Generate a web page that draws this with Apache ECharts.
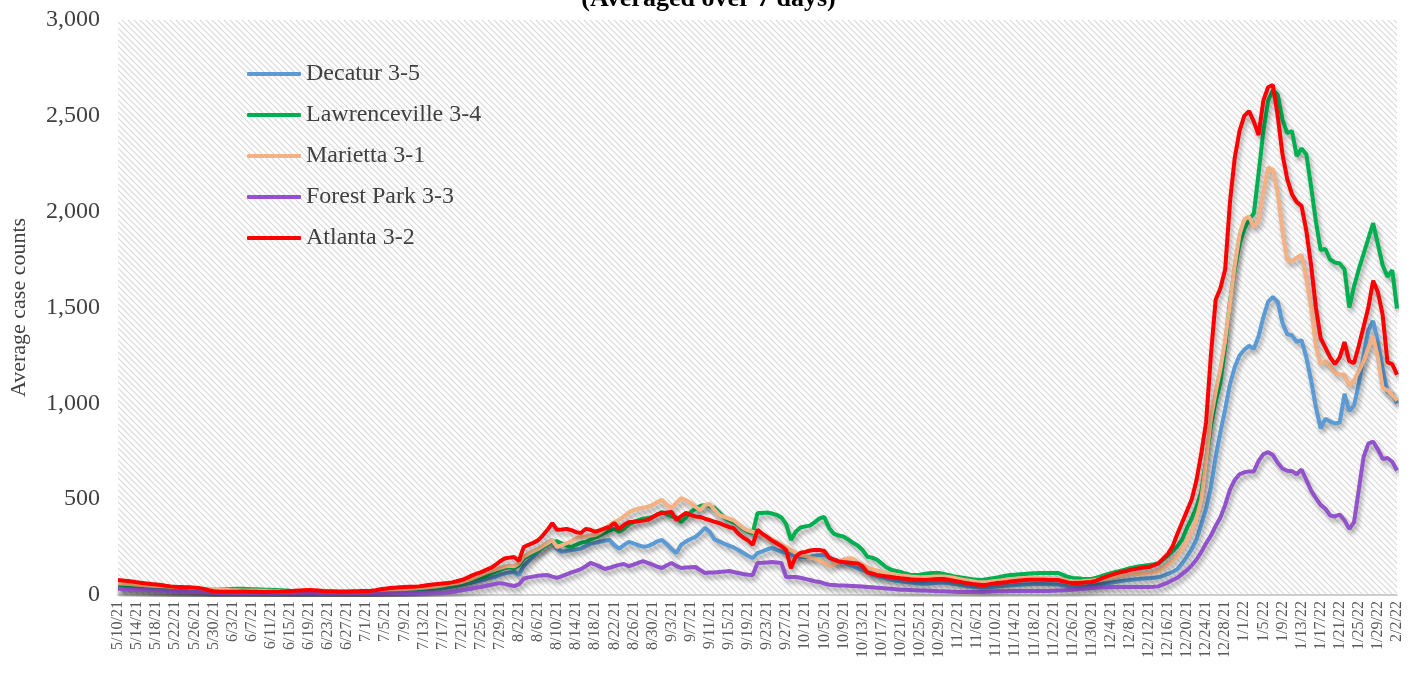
<!DOCTYPE html>
<html>
<head>
<meta charset="utf-8">
<title>Average case counts by district</title>
<script src="https://cdn.jsdelivr.net/npm/echarts@6.0.0/dist/echarts.min.js"></script>
<style>
  html, body { margin: 0; padding: 0; background: #fff; }
  #chart { width: 1417px; height: 675px; }
</style>
</head>
<body>
<div id="chart"></div>
<script>
// one category per day, 5/10/21 .. 2/2/22
const dates = [];
for (let i = 0; i < 269; i++) {
  const d = new Date(2021, 4, 10 + i);
  dates.push((d.getMonth() + 1) + '/' + d.getDate() + '/' + String(d.getFullYear()).slice(2));
}

const seriesNames = ['Decatur 3-5', 'Lawrenceville 3-4', 'Marietta 3-1', 'Forest Park 3-3', 'Atlanta 3-2'];
const seriesColors = ['#5b9bd5', '#00b050', '#f4b183', '#9152cc', '#ff0000'];

const decatur = [
  42, 41, 40, 38, 36, 34, 32, 30, 28, 26,
  25, 24, 23, 22, 21, 20, 19, 18, 17, 16,
  15, 14, 13, 13, 12, 12, 12, 12, 11, 11,
  11, 11, 11, 11, 11, 12, 12, 12, 12, 12,
  12, 12, 11, 11, 11, 11, 11, 11, 11, 11,
  11, 11, 12, 12, 13, 14, 15, 16, 17, 18,
  19, 20, 22, 24, 26, 28, 31, 34, 37, 40,
  44, 48, 53, 58, 64, 70, 76, 82, 88, 95,
  105, 112, 118, 120, 104, 150, 175, 200, 225, 250,
  272, 287, 240, 225, 230, 235, 238, 242, 255, 268,
  272, 278, 283, 287, 260, 242, 260, 277, 270, 260,
  252, 255, 265, 280, 287, 265, 240, 219, 262, 280,
  292, 303, 325, 350, 330, 290, 280, 268, 258, 248,
  235, 220, 205, 193, 219, 228, 238, 245, 235, 226,
  219, 212, 205, 200, 198, 200, 205, 208, 209, 195,
  185, 178, 172, 160, 150, 140, 130, 120, 105, 98,
  92, 86, 80, 76, 72, 68, 65, 62, 60, 59,
  60, 62, 64, 64, 62, 58, 54, 50, 46, 43,
  40, 38, 39, 41, 44, 46, 48, 50, 52, 54,
  55, 56, 57, 57, 57, 56, 56, 55, 50, 46,
  44, 44, 45, 46, 48, 52, 56, 60, 64, 68,
  72, 75, 78, 81, 84, 86, 88, 90, 92, 100,
  110, 120, 135, 165, 200, 240, 290, 370, 450, 560,
  720, 850, 970, 1100, 1190, 1250, 1280, 1300, 1285, 1350,
  1450, 1530, 1555, 1530, 1420, 1360, 1355, 1320, 1330, 1240,
  1120, 980, 870, 920, 905, 895, 900, 1050, 960, 990,
  1100, 1250, 1380, 1430, 1320, 1180, 1060, 1050, 1000
];

const lawrenceville = [
  40, 39, 38, 37, 36, 35, 34, 33, 32, 31,
  30, 30, 29, 29, 28, 28, 28, 28, 28, 28,
  28, 28, 29, 30, 31, 32, 32, 31, 30, 30,
  29, 28, 27, 26, 25, 24, 22, 21, 20, 19,
  19, 18, 18, 17, 17, 16, 16, 16, 16, 16,
  16, 16, 17, 17, 18, 19, 20, 21, 22, 24,
  26, 28, 30, 32, 34, 36, 38, 41, 44, 47,
  51, 56, 62, 68, 76, 84, 92, 100, 110, 120,
  130, 140, 145, 140, 155, 190, 205, 218, 232, 248,
  262, 277, 280, 270, 258, 250, 262, 272, 277, 290,
  300, 312, 325, 338, 345, 330, 345, 368, 380, 390,
  398, 402, 407, 420, 433, 420, 410, 405, 381, 405,
  433, 450, 465, 470, 462, 455, 430, 405, 390, 378,
  365, 345, 330, 323, 428, 428, 430, 425, 418, 405,
  370, 287, 330, 352, 358, 362, 380, 400, 407, 350,
  320, 310, 305, 290, 272, 258, 235, 200, 195, 185,
  165, 145, 132, 126, 120, 112, 106, 104, 106, 110,
  113, 115, 115, 110, 104, 98, 94, 90, 86, 82,
  80, 78, 82, 86, 90, 95, 100, 104, 106, 108,
  110, 112, 114, 115, 115, 115, 115, 115, 105, 95,
  89, 87, 85, 84, 84, 90, 98, 106, 114, 120,
  126, 132, 140, 145, 150, 153, 156, 160, 165, 185,
  205, 230, 255, 290, 350, 400, 460, 540, 700, 880,
  1010, 1110, 1300, 1530, 1700, 1830, 1910, 1960, 1990, 2200,
  2420, 2580, 2635, 2610, 2480, 2410, 2420, 2290, 2330, 2300,
  2130, 1950, 1800, 1805, 1750, 1735, 1730, 1700, 1500, 1610,
  1700, 1780, 1860, 1940, 1830, 1720, 1660, 1695, 1495
];

const marietta = [
  62, 60, 58, 56, 54, 52, 50, 48, 46, 45,
  44, 43, 42, 41, 40, 38, 36, 34, 32, 30,
  28, 27, 26, 26, 25, 25, 24, 24, 23, 23,
  22, 22, 22, 21, 21, 21, 20, 20, 20, 20,
  20, 19, 19, 18, 18, 17, 17, 17, 17, 17,
  17, 18, 18, 19, 20, 21, 22, 24, 26, 28,
  30, 32, 34, 36, 38, 40, 43, 46, 50, 54,
  58, 63, 68, 75, 84, 95, 105, 115, 125, 132,
  140, 148, 152, 150, 165, 200, 215, 228, 240, 255,
  270, 287, 250, 260, 270, 280, 295, 303, 305, 310,
  313, 325, 345, 365, 381, 392, 410, 430, 443, 450,
  455, 460, 470, 485, 496, 470, 454, 480, 506, 495,
  480, 460, 443, 470, 475, 445, 418, 408, 398, 390,
  370, 350, 337, 330, 323, 312, 300, 290, 278, 262,
  250, 235, 220, 208, 204, 196, 190, 180, 168, 150,
  160, 175, 185, 192, 190, 170, 160, 145, 135, 128,
  120, 115, 110, 106, 102, 99, 96, 94, 92, 92,
  94, 96, 97, 96, 94, 90, 85, 80, 76, 72,
  68, 66, 67, 70, 73, 76, 79, 82, 84, 86,
  87, 88, 88, 88, 87, 86, 85, 84, 80, 75,
  72, 71, 72, 74, 76, 80, 84, 88, 92, 96,
  100, 104, 108, 110, 112, 112, 112, 118, 125, 140,
  160, 180, 205, 240, 285, 330, 400, 500, 700, 920,
  1060, 1180, 1330, 1520, 1720, 1880, 1960, 1975, 1920, 1950,
  2100, 2230, 2220, 2100, 1900, 1745, 1742, 1760, 1775, 1650,
  1500, 1300, 1205, 1220, 1195, 1160, 1150, 1150, 1090, 1120,
  1170, 1220, 1290, 1350, 1240, 1080, 1068, 1045, 1015
];

const forestPark = [
  32, 31, 30, 29, 28, 27, 26, 25, 24, 23,
  22, 21, 20, 19, 18, 17, 16, 15, 14, 13,
  12, 11, 10, 10, 10, 10, 9, 9, 9, 9,
  9, 9, 9, 9, 9, 9, 9, 9, 9, 9,
  9, 8, 8, 8, 8, 8, 8, 8, 8, 8,
  8, 8, 8, 8, 8, 8, 8, 9, 9, 9,
  10, 10, 10, 11, 11, 12, 12, 12, 12, 13,
  16, 20, 24, 28, 33, 38, 42, 47, 52, 57,
  62, 58, 52, 47, 55, 85, 92, 96, 100, 103,
  104, 96, 89, 98, 108, 118, 126, 135, 150, 167,
  158, 148, 136, 142, 150, 157, 162, 150, 158, 168,
  177, 168, 158, 148, 141, 155, 167, 152, 141, 143,
  145, 146, 130, 115, 117, 118, 120, 122, 125, 120,
  115, 110, 106, 104, 167, 168, 170, 172, 170, 167,
  94, 94, 94, 90, 84, 78, 72, 68, 60, 54,
  52, 50, 49, 48, 47, 46, 44, 42, 40, 38,
  36, 34, 32, 30, 28, 27, 26, 25, 24, 23,
  22, 21, 20, 19, 18, 17, 16, 16, 16, 16,
  16, 16, 17, 18, 19, 20, 20, 21, 21, 21,
  21, 21, 21, 21, 21, 21, 22, 23, 24, 26,
  28, 30, 32, 34, 36, 38, 40, 41, 42, 42,
  42, 42, 42, 42, 42, 42, 42, 43, 45, 55,
  65, 78, 90, 110, 130, 155, 185, 225, 270, 310,
  360, 405, 470, 550, 600, 630, 640, 645, 645, 700,
  735, 745, 730, 690, 660, 648, 646, 630, 655, 600,
  545, 505, 470, 450, 415, 410, 420, 390, 345, 380,
  550, 720, 790, 800, 760, 710, 715, 695, 650
];

const atlanta = [
  78, 76, 73, 70, 66, 63, 60, 57, 55, 52,
  48, 45, 43, 42, 41, 40, 38, 36, 32, 25,
  20, 18, 17, 17, 17, 17, 18, 18, 17, 17,
  16, 16, 17, 17, 18, 20, 21, 22, 24, 25,
  26, 25, 23, 21, 20, 19, 18, 18, 18, 19,
  20, 21, 21, 22, 25, 30, 33, 36, 38, 40,
  42, 43, 43, 45, 48, 52, 55, 58, 60, 62,
  66, 72, 78, 88, 100, 110, 118, 130, 140, 155,
  175, 190, 195, 198, 178, 250, 262, 272, 285, 310,
  340, 375, 340, 342, 345, 338, 328, 323, 345, 340,
  330, 338, 348, 355, 375, 345, 365, 380, 382, 385,
  388, 392, 405, 420, 428, 430, 433, 392, 410, 428,
  418, 410, 407, 398, 391, 382, 375, 365, 355, 348,
  320, 300, 285, 262, 340, 320, 303, 285, 270, 255,
  235, 140, 200, 220, 225, 232, 235, 235, 230, 195,
  185, 175, 172, 170, 167, 165, 150, 118, 112, 105,
  100, 97, 94, 90, 87, 85, 82, 80, 79, 78,
  80, 82, 84, 83, 80, 75, 70, 66, 62, 58,
  55, 52, 54, 58, 62, 64, 66, 70, 73, 76,
  78, 79, 80, 80, 79, 78, 78, 78, 72, 66,
  62, 62, 64, 66, 68, 75, 85, 95, 104, 112,
  118, 124, 130, 135, 140, 143, 146, 155, 165, 190,
  215, 255, 320, 380, 440, 500, 600, 740, 900, 1250,
  1540, 1600, 1700, 2050, 2280, 2420, 2500, 2525, 2470, 2400,
  2580, 2650, 2660, 2500, 2300, 2170, 2090, 2050, 2030, 1900,
  1720, 1500, 1340, 1290, 1240, 1205, 1240, 1320, 1220, 1210,
  1300, 1400, 1500, 1640, 1580, 1460, 1215, 1205, 1150
];

const seriesData = [decatur, lawrenceville, marietta, forestPark, atlanta];

// diagonal hatch used as plot-area fill
function makeHatch() {
  const c = document.createElement('canvas');
  c.width = 6;
  c.height = 6;
  const ctx = c.getContext('2d');
  ctx.fillStyle = '#ffffff';
  ctx.fillRect(0, 0, 6, 6);
  ctx.strokeStyle = '#d9d9d9';
  ctx.lineWidth = 1.2;
  for (let k = -1; k <= 1; k++) {
    ctx.beginPath();
    ctx.moveTo(-1, -1 + k * 6);
    ctx.lineTo(7, 7 + k * 6);
    ctx.stroke();
  }
  return c;
}

const serif = '"Liberation Serif", "DejaVu Serif", serif';
const myChart = echarts.init(document.getElementById('chart'));

myChart.setOption({
  animation: false,
  backgroundColor: '#ffffff',
  title: {
    text: '(Averaged over 7 days)',
    left: 'center',
    top: -19,
    textStyle: { fontFamily: serif, fontSize: 26, fontWeight: 'bold', color: '#000' }
  },
  legend: {
    orient: 'vertical',
    left: 242,
    top: 57,
    itemWidth: 54,
    itemHeight: 4,
    itemGap: 17,
    icon: 'roundRect',
    data: seriesNames,
    textStyle: { fontFamily: serif, fontSize: 24, color: '#404040' }
  },
  grid: {
    left: 118,
    right: 20,
    top: 20,
    bottom: 80,
    outerBoundsMode: 'none',
    containLabel: false,
    show: true,
    borderWidth: 0,
    backgroundColor: { image: makeHatch(), repeat: 'repeat' }
  },
  xAxis: {
    type: 'category',
    data: dates,
    boundaryGap: false,
    axisLine: { lineStyle: { color: '#bfbfbf', width: 1.5 } },
    axisTick: { show: false },
    axisLabel: {
      interval: 3,
      rotate: 90,
      margin: 6,
      fontFamily: serif,
      fontSize: 16,
      color: '#595959'
    },
    splitLine: { show: false }
  },
  yAxis: {
    type: 'value',
    min: 0,
    max: 3000,
    interval: 500,
    name: 'Average case counts',
    nameLocation: 'middle',
    nameGap: 88,
    nameTextStyle: { fontFamily: serif, fontSize: 22, color: '#404040' },
    axisLine: { show: false },
    axisTick: { show: false },
    splitLine: { show: false },
    axisLabel: {
      margin: 18,
      fontFamily: serif,
      fontSize: 24,
      color: '#404040',
      formatter: v => v.toLocaleString('en-US')
    }
  },
  series: seriesNames.map((name, k) => ({
    name: name,
    type: 'line',
    data: seriesData[k],
    showSymbol: false,
    symbol: 'none',
    color: seriesColors[k],
    lineStyle: {
      width: 4,
      color: seriesColors[k],
      shadowColor: 'rgba(0, 0, 0, 0.35)',
      shadowBlur: 5,
      shadowOffsetX: 2,
      shadowOffsetY: 4
    }
  }))
});

window.onresize = () => {
  myChart.resize();
};
</script>
</body>
</html>
